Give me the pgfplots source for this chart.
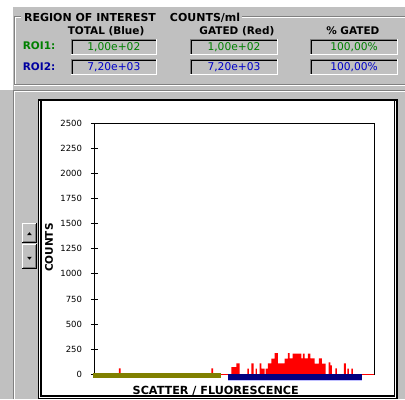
\documentclass[border=0pt]{standalone}
\usepackage{pgfplots}
\pgfplotsset{compat=1.18}
\usepackage{fontspec}
\setmainfont{DejaVu Sans}
\definecolor{bg}{HTML}{C0C0C0}
\definecolor{dg}{HTML}{808080}
\definecolor{roig}{HTML}{008000}
\definecolor{roib}{HTML}{0000A0}
\definecolor{valb}{HTML}{0000C8}
\definecolor{olivebar}{HTML}{808000}
\definecolor{navybar}{HTML}{000080}
\newcommand{\hdfont}{\fontsize{10.5}{12}\selectfont\bfseries}
\newcommand{\valfont}{\fontsize{10.7}{12}\selectfont}
\newcommand{\valbox}[4]{% x1 x2 ytop ybottom (tikz Y)
  \fill[bg] (#1,#4) rectangle (#2,#3);
  \draw[dg,line width=1pt] (#1+0.5,#4) -- (#1+0.5,#3-0.5) -- (#2,#3-0.5);
  \draw[black,line width=1pt] (#1+1.5,#4+1) -- (#1+1.5,#3-1.5) -- (#2-1,#3-1.5);
  \draw[white,line width=1pt] (#1,#4+0.5) -- (#2-0.5,#4+0.5) -- (#2-0.5,#3);
}
\begin{document}
\begin{tikzpicture}[x=1pt,y=1pt]
% background
\fill[white] (0,0) rectangle (405,400);
\fill[bg] (0,0) rectangle (405,310);
\fill[bg] (13,310) rectangle (405,393);
% group box etched border
\draw[dg,line width=1pt] (14.5,315.5) -- (14.5,383.5) -- (21,383.5);
\draw[white,line width=1pt] (15.5,315) -- (15.5,382.5) -- (21,382.5);
\draw[dg,line width=1pt] (242,383.5) -- (405,383.5);
\draw[white,line width=1pt] (242,382.5) -- (405,382.5);
\draw[dg,line width=1pt] (14,315.5) -- (405,315.5);
\draw[white,line width=1pt] (14,314.5) -- (405,314.5);
% title
\node[anchor=base west,inner sep=0pt,font=\fontsize{11}{12}\selectfont\bfseries] at (24,378.3) {REGION OF INTEREST};
\node[anchor=base west,inner sep=0pt,font=\fontsize{11}{12}\selectfont\bfseries] at (170,378.3) {COUNTS/ml};
% headers
\node[anchor=base,inner sep=0pt,font=\hdfont] at (106.2,365.3) {TOTAL (Blue)};
\node[anchor=base,inner sep=0pt,font=\hdfont] at (237.2,365.3) {GATED (Red)};
\node[anchor=base,inner sep=0pt,font=\hdfont] at (353.3,365.3) {\% GATED};
\node[anchor=base west,inner sep=0pt,font=\hdfont,text=roig] at (22.7,350) {ROI1:};
\node[anchor=base west,inner sep=0pt,font=\hdfont,text=roib] at (22.7,329) {ROI2:};
% value boxes
\valbox{70.7}{157.3}{360.7}{345}
\valbox{190.7}{278}{360.7}{345}
\valbox{310.7}{398.3}{360.7}{345}
\valbox{70.7}{157.3}{340.7}{325}
\valbox{190.7}{278}{340.7}{325}
\valbox{310.7}{398.3}{340.7}{325}
\node[anchor=base,inner sep=0pt,font=\valfont,text=roig] at (114,349.3) {1,00e+02};
\node[anchor=base,inner sep=0pt,font=\valfont,text=roig] at (234.3,349.3) {1,00e+02};
\node[anchor=base,inner sep=0pt,font=\valfont,text=roig] at (354.5,349.3) {100,00\%};
\node[anchor=base,inner sep=0pt,font=\valfont,text=valb] at (114,329.3) {7,20e+03};
\node[anchor=base,inner sep=0pt,font=\valfont,text=valb] at (234.3,329.3) {7,20e+03};
\node[anchor=base,inner sep=0pt,font=\valfont,text=valb] at (354.5,329.3) {100,00\%};
% lower panel etched border
\draw[dg,line width=1pt] (13.5,0) -- (13.5,309.5) -- (405,309.5);
\draw[white,line width=1pt] (14.5,0) -- (14.5,308.5) -- (405,308.5);
% white plot panel
\fill[white] (38,0.5) rectangle (398.5,301);
\draw[black,line width=1.5pt] (38.7,1) rectangle (397.7,300);
\draw[black,line width=1.2pt] (41,3.6) rectangle (394.8,299);
% spin buttons
\foreach \yt/\yb in {177/156.5, 155.5/131}{
  \fill[bg] (22.3,\yb) rectangle (36.7,\yt);
  \draw[white,line width=1pt] (22.8,\yb) -- (22.8,\yt-0.5) -- (36.7,\yt-0.5);
  \draw[black,line width=1pt] (22.3,\yb+0.5) -- (36.2,\yb+0.5) -- (36.2,\yt);
  \draw[dg,line width=1pt] (23.5,\yb+1.5) -- (35.2,\yb+1.5) -- (35.2,\yt-1);
}
\fill[black] (27.2,164.6) -- (31.8,164.6) -- (29.5,167.5) -- cycle;
\fill[black] (27.2,142.8) -- (31.8,142.8) -- (29.5,140) -- cycle;
% axis labels
\node[rotate=90,font=\fontsize{10.5}{12}\selectfont\bfseries,inner sep=0pt] at (49,152) {COUNTS};
\node[font=\fontsize{11.2}{12}\selectfont\bfseries,inner sep=0pt] at (216,8.6) {SCATTER / FLUORESCENCE};
\begin{axis}[
  at={(94.5,25)}, anchor=south west,
  scale only axis, width=280.2pt, height=251.7pt,
  xmin=94.5, xmax=374.7, ymin=0, ymax=2500,
  clip=false,
  xtick=\empty,
  ytick={0,250,...,2500},
  ytick pos=left,
  tick align=center,
  major tick length=7pt,
  every tick/.style={black, line width=0.8pt},
  axis line style={black, line width=0.8pt},
  /pgf/number format/assume math mode=true,
  /pgf/number format/.cd, 1000 sep={}, /pgfplots/.cd,
  yticklabel style={font=\fontsize{8.5}{10}\selectfont, anchor=east, inner sep=0pt, xshift=-8.7pt},
]
% red histogram (counts per channel)
\addplot[fill=red, draw=none, const plot] coordinates {
(119,60) (120.7,0) (211.7,60) (213.3,0)
(231.7,73) (236.7,110) (240,0) (247.7,57) (249.3,0) (251.7,110) (254,0)
(256,57) (257.3,0) (260,110) (261.7,57) (265,0) (266,57) (268.3,110)
(271.7,157) (275,210) (278.3,110) (285,157) (288.3,210) (290,160)
(293,207) (301.7,160) (303.3,207) (305,160) (308.3,207) (310.7,160)
(315,107) (319.3,160) (322.3,107) (326,0) (329,120) (330.7,90) (332.3,0)
(335.7,60) (337.3,0) (344.3,110) (346.3,0) (347.7,57) (349.3,0)
(351.7,57) (353.3,0) (374.7,0)
} \closedcycle;
% red baseline
\addplot[red, line width=1.6pt] coordinates {(221.7,0) (374.7,0)};
% ROI2 region bar (navy)
\addplot[fill=navybar, draw=none] coordinates {(228,-60) (362.7,-60) (362.7,7) (228,7)} -- cycle;
\addplot[fill=blue!25, draw=none] coordinates {(228,-70) (362.7,-70) (362.7,-60) (228,-60)} -- cycle;
% ROI1 region bar (olive)
\addplot[fill=olivebar, draw=none] coordinates {(93.5,-33) (221.7,-33) (221.7,17) (93.5,17)} -- cycle;
\end{axis}
\end{tikzpicture}
\end{document}
